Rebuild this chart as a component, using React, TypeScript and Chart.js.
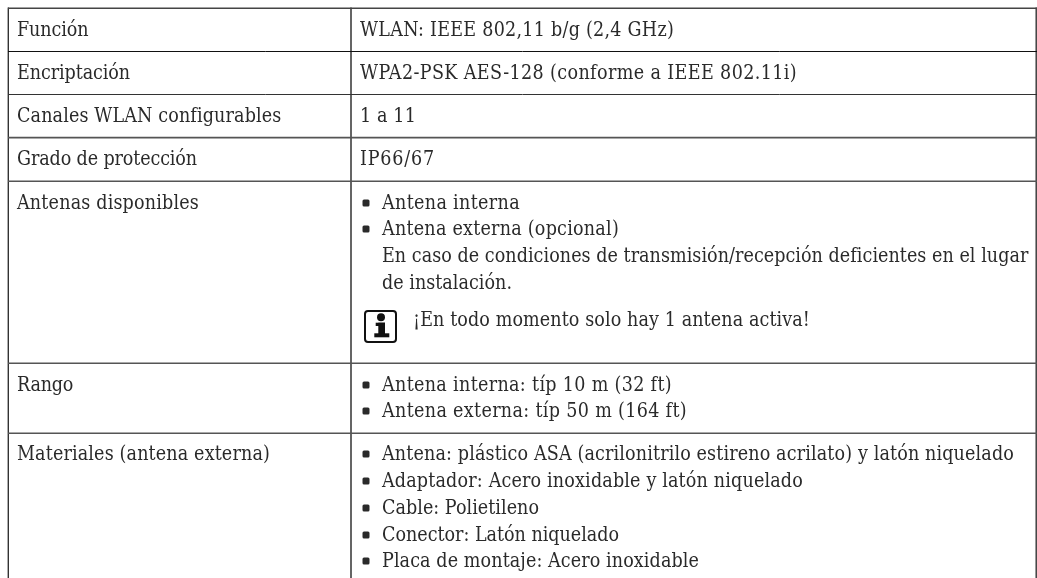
import React, { useEffect, useRef } from "react";
import { Chart, registerables } from "chart.js";

Chart.register(...registerables);

const rowLabels = ["Función", "Encriptación", "Canales WLAN configurables", "Grado de protección", "Antenas disponibles", "Rango", "Materiales (antena externa)"];
const plainValues = ["WLAN: IEEE 802,11 b/g (2,4 GHz)", "WPA2-PSK AES-128 (conforme a IEEE 802.11i)", "1 a 11", "IP66/67"];
const antenaItems = ["Antena interna", "Antena externa (opcional)"];
const antenaNote = ["En caso de condiciones de transmisión/recepción deficientes en el lugar", "de instalación."];
const antenaInfo = "¡En todo momento solo hay 1 antena activa!";
const rangoItems = ["Antena interna: típ 10 m (32 ft)", "Antena externa: típ 50 m (164 ft)"];
const materialItems = ["Antena: plástico ASA (acrilonitrilo estireno acrilato) y latón niquelado", "Adaptador: Acero inoxidable y latón niquelado", "Cable: Polietileno", "Conector: Latón niquelado", "Placa de montaje: Acero inoxidable"];

// layout (separate from the content)
const labelEnds = [88.5, 130, 281, 197, 199, 73, 270];
const plainEnds = [674, 797, 416, 435];
const antenaEnds = [520, 619];
const noteEnds = [1028, 512];
const infoEnd = 810;
const rangoEnds = [672, 687];
const materialEnds = [1014, 803, 539, 619, 699];
const labelBaselines = [36, 79, 122, 165, 209, 391, 460];
const antenaBaselines = [209, 235];
const noteBaselines = [262, 289];
const rangoBaselines = [391, 417];
const materialBaselines = [460, 487, 514, 541, 567];
const hRuleYs = [8.2, 51.5, 94.5, 137.6, 181.2, 363.2, 433.3];
const hRuleWidths = [1.6, 1, 1, 1.6, 1.6, 1.6, 1.6];
const hRuleColors = ["#444", "#111", "#333", "#555", "#555", "#555", "#555"];
const vRuleXs = [8.3, 351, 1036.2];
const vRuleWidths = [1.4, 1.8, 1.4];
const vRuleColors = ["#333", "#555", "#333"];
const FONT = '19.5px "DejaVu Serif Condensed"';

export default function App() {
  const ref = useRef<HTMLCanvasElement>(null);
  useEffect(() => {
    document.body.style.margin = "0";
    const tablePlugin = {
      id: "tableText",
      afterDatasetsDraw(chart: any) {
        const { ctx, scales } = chart;
        const X = (v: number) => scales.x.getPixelForValue(v);
        const Y = (v: number) => scales.y.getPixelForValue(v);
        ctx.save();
        ctx.fillStyle = "#2a2a2a";
        ctx.font = FONT;
        ctx.textBaseline = "alphabetic";
        const text = (s: string, x: number, end: number, y: number) => {
          ctx.letterSpacing = "0px";
          const w = ctx.measureText(s).width;
          ctx.letterSpacing = `${(end - x - w) / s.length}px`;
          ctx.fillText(s, X(x), Y(y));
          ctx.letterSpacing = "0px";
        };
        const bullet = (y: number) => {
          ctx.beginPath();
          ctx.roundRect(X(362.5), Y(y - 9.5), 7, 7, 1.5);
          ctx.fill();
        };
        const item = (s: string, end: number, y: number) => { bullet(y); text(s, 382, end, y); };
        rowLabels.forEach((s, i) => text(s, 17, labelEnds[i], labelBaselines[i]));
        plainValues.forEach((s, i) => text(s, 360, plainEnds[i], labelBaselines[i]));
        antenaItems.forEach((s, i) => item(s, antenaEnds[i], antenaBaselines[i]));
        antenaNote.forEach((s, i) => text(s, 382, noteEnds[i], noteBaselines[i]));
        text(antenaInfo, 413, infoEnd, 326);
        rangoItems.forEach((s, i) => item(s, rangoEnds[i], rangoBaselines[i]));
        materialItems.forEach((s, i) => item(s, materialEnds[i], materialBaselines[i]));
        // info icon
        ctx.strokeStyle = "#111";
        ctx.lineWidth = 2;
        ctx.beginPath();
        ctx.roundRect(X(365), Y(311), 31, 31, 3);
        ctx.stroke();
        ctx.fillStyle = "#111";
        ctx.beginPath();
        ctx.arc(X(381), Y(317.3), 4, 0, Math.PI * 2);
        ctx.fill();
        ctx.fillRect(X(375.7), Y(322.7), 9.3, 3.3);
        ctx.fillRect(X(378.3), Y(322.7), 6.7, 12);
        ctx.fillRect(X(374.3), Y(333.3), 15, 4);
        ctx.restore();
      },
    };
    const hRules = hRuleYs.map((y, i) => ({
      data: [{ x: 8, y }, { x: 1037, y }],
      borderColor: hRuleColors[i],
      borderWidth: hRuleWidths[i],
    }));
    const vRules = vRuleXs.map((x, i) => ({
      data: [{ x, y: 7.4 }, { x, y: 578 }],
      borderColor: vRuleColors[i],
      borderWidth: vRuleWidths[i],
    }));
    const chart = new Chart(ref.current!, {
      type: "line",
      data: {
        datasets: [...hRules, ...vRules].map((d) => ({ ...d, pointRadius: 0, tension: 0 })),
      },
      options: {
        animation: false,
        responsive: false,
        layout: { padding: 0 },
        plugins: { legend: { display: false }, tooltip: { enabled: false } },
        scales: {
          x: { type: "linear", min: 0, max: 1037, display: false },
          y: { type: "linear", min: 0, max: 578, reverse: true, display: false },
        },
      },
      plugins: [tablePlugin],
    } as any);
    return () => chart.destroy();
  }, []);
  return <canvas ref={ref} width={1037} height={578} style={{ display: "block", background: "#fff" }} />;
}
